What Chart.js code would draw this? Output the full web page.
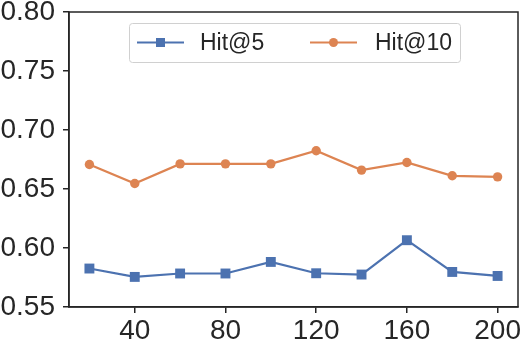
<!DOCTYPE html>
<html>
<head>
<meta charset="utf-8">
<script src="https://cdn.jsdelivr.net/npm/chart.js@4"></script>
<style>
  html, body { margin: 0; padding: 0; background: #fff; }
  #wrap { width: 532px; height: 348px; }
</style>
</head>
<body>
<div id="wrap"><canvas id="c" width="532" height="348"></canvas></div>
<script>
// values
const xValues = [20, 40, 60, 80, 100, 120, 140, 160, 180, 200];
const hit5 = [0.5826, 0.5755, 0.5784, 0.5784, 0.5882, 0.5786, 0.5775, 0.6066, 0.5797, 0.5763];
const hit10 = [0.6708, 0.6547, 0.6713, 0.6713, 0.6713, 0.6824, 0.666, 0.6725, 0.6612, 0.6603];
const xTicks = [40, 80, 120, 160, 200];
const yTicks = [0.55, 0.60, 0.65, 0.70, 0.75, 0.80];

const BLUE = '#4C72B0';
const ORANGE = '#DD8452';
const AXIS = '#262626';
const FONT = "'Liberation Sans', Arial, sans-serif";

const toPoints = (ys) => ys.map((y, i) => ({ x: xValues[i], y }));

// frame around the plot (matplotlib-style box)
const frame = {
  id: 'frame',
  afterDraw(chart) {
    const { ctx, chartArea: a } = chart;
    ctx.save();
    ctx.strokeStyle = AXIS;
    ctx.lineWidth = 1.5;
    ctx.strokeRect(a.left, a.top, a.right - a.left, a.bottom - a.top);
    ctx.restore();
  }
};

// legend drawn like matplotlib: line + marker + label
const mplLegend = {
  id: 'mplLegend',
  afterDraw(chart) {
    const { ctx, chartArea: a } = chart;
    const x0 = a.left + 60, y0 = a.top + 11, w = 331, h = 39;
    ctx.save();
    ctx.fillStyle = 'rgba(255,255,255,0.8)';
    ctx.strokeStyle = '#d0d0d0';
    ctx.lineWidth = 1;
    ctx.beginPath();
    ctx.roundRect(x0 + 0.5, y0 + 0.5, w, h, 3);
    ctx.fill();
    ctx.stroke();

    const cy = y0 + h / 2;
    const items = [{ ds: chart.data.datasets[0], lx: x0 + 8, tx: x0 + 71 },
                   { ds: chart.data.datasets[1], lx: x0 + 181, tx: x0 + 246 }];
    items.forEach(({ ds, lx, tx }) => {
      ctx.strokeStyle = ds.borderColor;
      ctx.lineWidth = 2;
      ctx.beginPath();
      ctx.moveTo(lx, cy);
      ctx.lineTo(lx + 47, cy);
      ctx.stroke();
      ctx.fillStyle = ds.borderColor;
      if (ds.pointStyle === 'rect') {
        ctx.fillRect(lx + 23.5 - 4.5, cy - 4.5, 9, 9);
      } else {
        ctx.beginPath();
        ctx.arc(lx + 23.5, cy, 4.5, 0, Math.PI * 2);
        ctx.fill();
      }
      ctx.fillStyle = AXIS;
      ctx.font = '23px ' + FONT;
      ctx.textBaseline = 'middle';
      ctx.fillText(ds.label, tx, cy + 1);
    });
    ctx.restore();
  }
};

new Chart(document.getElementById('c'), {
  type: 'line',
  data: {
    datasets: [
      {
        label: 'Hit@5',
        data: toPoints(hit5),
        borderColor: BLUE,
        backgroundColor: BLUE,
        borderWidth: 2.2,
        pointStyle: 'rect',
        pointRadius: 7,
        pointBorderWidth: 0,
        tension: 0
      },
      {
        label: 'Hit@10',
        data: toPoints(hit10),
        borderColor: ORANGE,
        backgroundColor: ORANGE,
        borderWidth: 2.2,
        pointStyle: 'circle',
        pointRadius: 4.7,
        pointBorderWidth: 0,
        tension: 0
      }
    ]
  },
  options: {
    responsive: false,
    animation: false,
    layout: { padding: { top: 12, right: 14, left: 0, bottom: 0 } },
    plugins: { legend: { display: false }, tooltip: { enabled: false } },
    scales: {
      x: {
        type: 'linear',
        min: 11,
        max: 209,
        afterBuildTicks: (s) => { s.ticks = xTicks.map(v => ({ value: v })); },
        afterFit: (s) => { s.height = 41; s.paddingLeft = 0; s.paddingRight = 0; },
        grid: { drawOnChartArea: false, drawTicks: true, tickLength: 6, color: AXIS, lineWidth: 1.5 },
        border: { display: true, color: AXIS, width: 1.5 },
        ticks: { color: AXIS, font: { family: FONT, size: 28 }, padding: 1, maxRotation: 0, autoSkip: false }
      },
      y: {
        type: 'linear',
        min: 0.55,
        max: 0.80,
        afterBuildTicks: (s) => { s.ticks = yTicks.map(v => ({ value: v })); },
        afterFit: (s) => { s.width = 69; s.paddingTop = 0; s.paddingBottom = 0; },
        grid: { drawOnChartArea: false, drawTicks: true, tickLength: 6, color: AXIS, lineWidth: 1.5 },
        border: { display: true, color: AXIS, width: 1.5 },
        ticks: { color: AXIS, font: { family: FONT, size: 28 }, padding: 8,
                 callback: (v) => Number(v).toFixed(2) }
      }
    }
  },
  plugins: [frame, mplLegend]
});
</script>
</body>
</html>
